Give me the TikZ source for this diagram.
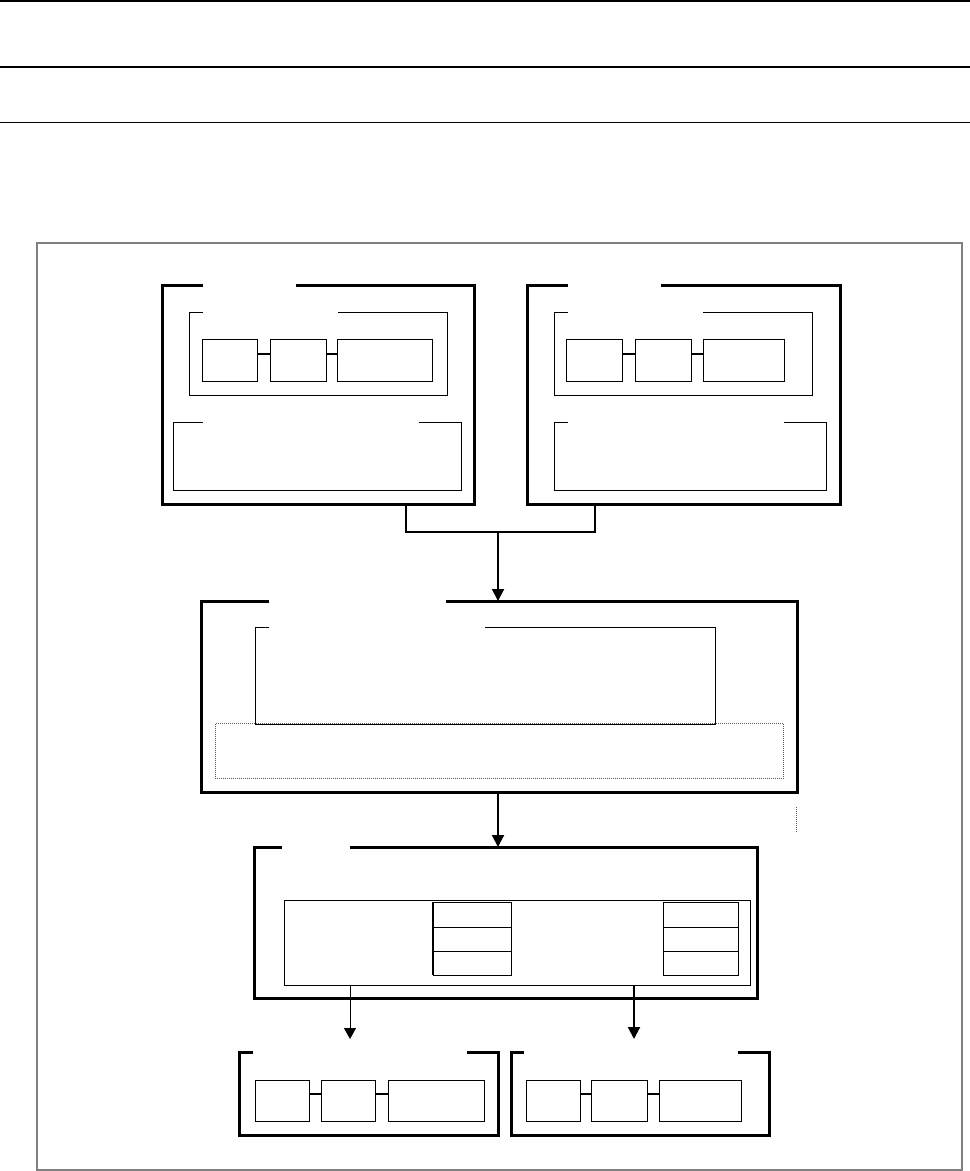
\documentclass[tikz,border=0pt]{standalone}
\usetikzlibrary{arrows.meta,calc}
\tikzset{
  thickbox/.style={line width=3pt, line join=miter},
  thinbox/.style={line width=1pt, line join=miter},
  cell/.style={draw, line width=1pt, inner sep=0pt, outer sep=0pt},
  link/.style={line width=2pt},
  wire/.style={line width=2pt},
  arr/.style={line width=2pt, -{Triangle[length=12pt,width=12pt]}},
  arrthin/.style={line width=1pt, -{Triangle[length=11pt,width=12pt]}},
  grayframe/.style={draw=black!50, line width=2pt},
  dotbox/.style={draw=black!65, line width=0.8pt, dash pattern=on 1pt off 1pt},
}
% name, x1, y1, x2, y2, gap start, gap end, style
\newcommand\gbox[8]{%
  \node[inner sep=0pt, outer sep=0pt, minimum width={#4pt-#2pt}, minimum height={#5pt-#3pt}, anchor=north west] (#1) at (#2,#3) {};
  \draw[#8] (#6,#3) -- (#2,#3) -- (#2,#5) -- (#4,#5) -- (#4,#3) -- (#7,#3);}
% name, x1, y1, x2, y2, style
\newcommand\pbox[6]{%
  \node[cell, #6, minimum width={#4pt-#2pt}, minimum height={#5pt-#3pt}, anchor=north west] (#1) at (#2,#3) {};}
\begin{document}
\begin{tikzpicture}[x=1pt, y=-1pt]
\useasboundingbox (0,0) rectangle (970,1171);
% header rules
\draw[line width=2.2pt] (0,1.3) -- (970,1.3);
\draw[line width=2pt] (0,67) -- (970,67);
\draw[line width=1pt] (0,122.5) -- (970,122.5);
% outer gray frame
\node[grayframe, inner sep=0pt, minimum width=925pt, minimum height=927pt, anchor=north west] (frame) at (36,242) {};

% ---- top left block
\gbox{tl}{162}{285}{474}{504}{203}{296}{thickbox}
\gbox{tla}{189}{312}{447}{395}{203}{338}{thinbox}
\pbox{tla1}{202}{339}{257}{381}{}
\pbox{tla2}{270}{339}{326}{381}{}
\pbox{tla3}{337}{339}{432}{381}{}
\draw[link] ($(tla1.east)+(0,-6)$) -- ($(tla2.west)+(0,-6)$);
\draw[link] ($(tla2.east)+(0,-6)$) -- ($(tla3.west)+(0,-6)$);
\gbox{tlb}{173}{422}{461}{490}{203}{419}{thinbox}

% ---- top right block
\gbox{tr}{527}{285}{840}{504}{568}{661}{thickbox}
\gbox{tra}{554}{312}{812}{395}{568}{703}{thinbox}
\pbox{tra1}{566}{339}{622}{381}{}
\pbox{tra2}{635}{339}{691}{381}{}
\pbox{tra3}{703}{339}{784}{381}{}
\draw[link] ($(tra1.east)+(0,-6)$) -- ($(tra2.west)+(0,-6)$);
\draw[link] ($(tra2.east)+(0,-6)$) -- ($(tra3.west)+(0,-6)$);
\gbox{trb}{554}{422}{826}{490}{568}{784}{thinbox}

% ---- middle block
\gbox{mid}{201}{601}{797}{792}{269}{446}{thickbox}
\node[dotbox, inner sep=0pt, minimum width=568.5pt, minimum height=55pt, anchor=north west] (midc) at (214.5,723.3) {};
\gbox{mida}{255}{627.5}{715}{724}{269}{485}{thinbox}
\coordinate (dv1) at (796,807);
\coordinate (dv2) at (796,832);
\draw[dotbox] (dv1) -- (dv2);

% merge connector
\coordinate (mj) at (498,532);
\draw[wire] ($(tl.south west)+(244,0)$) |- ($(tr.south west)+(68,28)$) -- ($(tr.south west)+(68,0)$);
\draw[arr] (mj) -- (mid.north -| mj);

% ---- bottom block
\gbox{bot}{254}{847}{757}{998}{282}{350}{thickbox}
\node[draw, line width=1pt, inner sep=0pt, minimum width=466pt, minimum height=85pt, anchor=north west] (bin) at (283.5,899.5) {};
\pbox{s11}{433}{902}{511}{927}{}
\pbox{s12}{433}{927}{511}{951}{}
\pbox{s13}{433}{951}{511}{975}{}
\pbox{s21}{663}{902}{738}{927}{}
\pbox{s22}{663}{927}{738}{951}{}
\pbox{s23}{663}{951}{738}{975}{}
\draw[line width=2pt] (s11.north west) -- (s13.south west);

\draw[arr] (mid.south -| mj) -- (bot.north -| mj);

% ---- bottom boxes
\gbox{bl}{239}{1052}{498}{1135}{253}{467}{thickbox}
\pbox{bl1}{255}{1080}{309}{1121}{}
\pbox{bl2}{321}{1080}{375}{1121}{}
\pbox{bl3}{388}{1080}{484}{1121}{}
\draw[link] ($(bl1.east)+(0,-6.5)$) -- ($(bl2.west)+(0,-6.5)$);
\draw[link] ($(bl2.east)+(0,-6.5)$) -- ($(bl3.west)+(0,-6.5)$);
\gbox{br}{511}{1052}{769}{1135}{524}{738}{thickbox}
\pbox{br1}{526}{1080}{580}{1121}{}
\pbox{br2}{591}{1080}{647}{1121}{}
\pbox{br3}{659}{1080}{741}{1121}{}
\draw[link] ($(br1.east)+(0,-6.5)$) -- ($(br2.west)+(0,-6.5)$);
\draw[link] ($(br2.east)+(0,-6.5)$) -- ($(br3.west)+(0,-6.5)$);

% arrows from bottom block to bottom boxes
\coordinate (la) at (350,1039);
\coordinate (ra) at (634,1039);
\draw[arrthin] (bin.south -| la) -- (la);
\draw[arr] (bin.south -| ra) -- (ra);
\end{tikzpicture}
\end{document}
